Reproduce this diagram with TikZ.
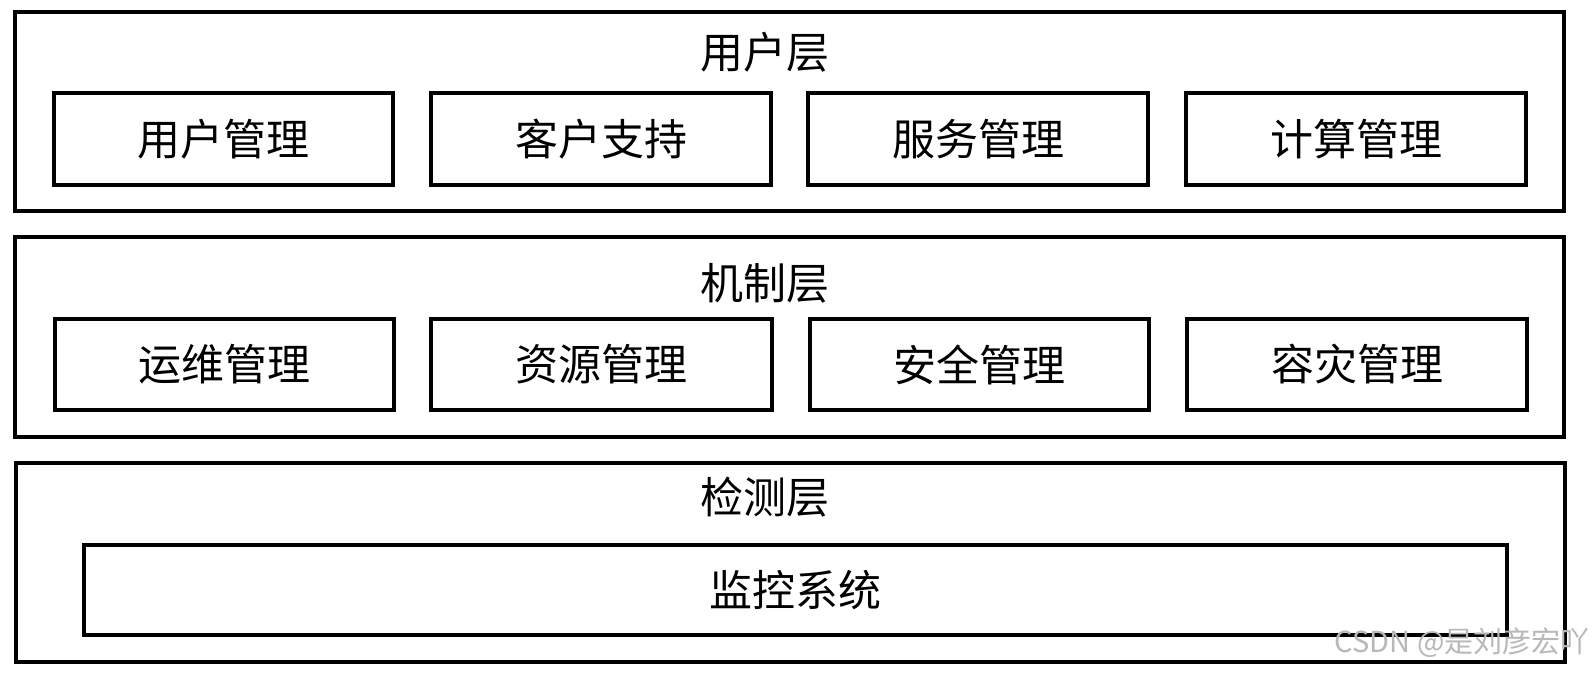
\documentclass[tikz,border=0pt]{standalone}
\usepackage{fontspec}
\setmainfont{Noto Sans CJK SC}
\begin{document}
\begin{tikzpicture}[x=1pt,y=1pt,
  layerbox/.style={draw=black, line width=3.3pt, minimum width=1549pt, inner sep=0pt},
  modbox/.style={draw=black, line width=3.6pt, minimum height=91pt, inner sep=0pt,
    font=\fontsize{43}{48}\selectfont},
  layertitle/.style={inner sep=0pt, font=\fontsize{43}{48}\selectfont},
  wm/.style={inner sep=0pt, text=black!28, font=\fontsize{29}{32}\selectfont}]
\useasboundingbox[fill=white] (0,0) rectangle (1595,-675);
% layers
\node[layerbox, minimum height=199pt] (LA) at (789.5,-111.5) {};
\node[layerbox, minimum height=200pt] (LB) at (789.5,-337) {};
\node[layerbox, minimum height=199pt] (LC) at (790.5,-562.5) {};
\node[layertitle] (TA) at (765,-52) {用户层};
\node[layertitle] (TB) at (765,-283) {机制层};
\node[layertitle] (TC) at (765,-497) {检测层};
% row 1
\node[modbox, minimum width=339pt, minimum height=92pt] (A1) at (223.5,-139) {用户管理};
\node[modbox, minimum width=340pt, minimum height=92pt] (A2) at (601,-139) {客户支持};
\node[modbox, minimum width=340pt, minimum height=92pt] (A3) at (978,-139) {服务管理};
\node[modbox, minimum width=340pt, minimum height=92pt] (A4) at (1356,-139) {计算管理};
% row 2
\node[modbox, minimum width=339pt] (B1) at (224.5,-364.5) {运维管理};
\node[modbox, minimum width=341pt] (B2) at (601.5,-364.5) {资源管理};
\node[modbox, minimum width=339pt] (B3) at (979.5,-364.5) {安全管理};
\node[modbox, minimum width=340pt] (B4) at (1357,-364.5) {容灾管理};
% row 3
\node[modbox, minimum width=1423pt, minimum height=90pt] (C1) at (795.5,-590) {监控系统};
% watermark
\node[wm, anchor=east] (W) at (1590,-643) {CSDN @是刘彦宏吖};
\end{tikzpicture}
\end{document}
